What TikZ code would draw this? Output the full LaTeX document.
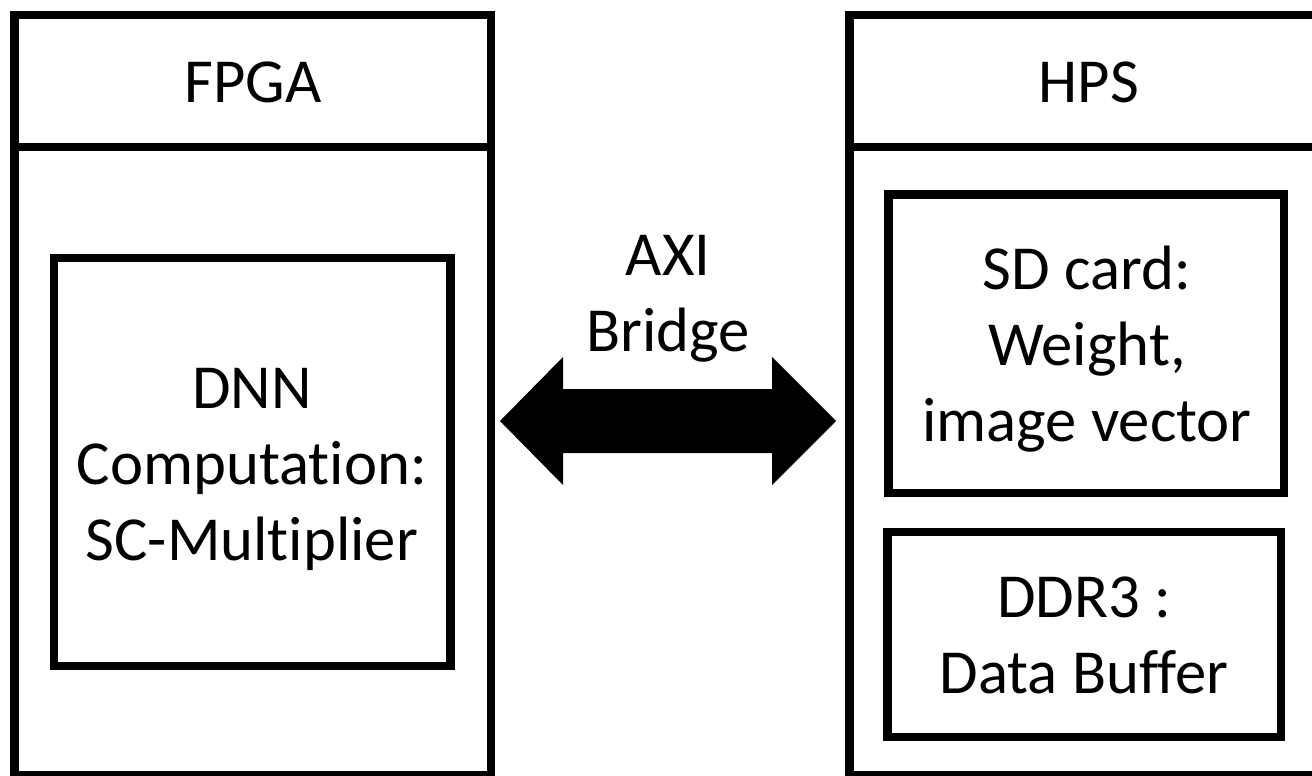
\documentclass[tikz,border=0pt]{standalone}
\usepackage{fontspec}
\setmainfont[Ligatures=NoCommon]{Carlito}
\usetikzlibrary{calc}
\begin{document}
\begin{tikzpicture}[
  x=0.75pt, y=-0.75pt,
  frame/.style={draw=black, line width=6.4pt, rectangle, inner sep=0pt, outer sep=0pt},
  txt/.style={inner sep=0pt, align=center, font=\fontsize{47}{57}\selectfont}
]
\useasboundingbox (0,0) rectangle (1312,775);

% FPGA side: header and body
\node[frame, minimum width=357.4pt, minimum height=99pt]  (fpgahead) at (252.75,81) {};
\node[frame, minimum width=357.4pt, minimum height=471pt] (fpga)     at (252.75,461) {};
\node[txt] (fpgalabel) at (253,82) {FPGA};

\node[frame, minimum width=297.4pt, minimum height=306pt] (dnn) at (252.25,462) {};
\node[txt] (dnnlabel) at (252,469.5) {DNN\\Computation:\\SC-Multiplier};

% HPS side: header and body
\node[frame, minimum width=357.4pt, minimum height=99pt]  (hpshead) at (1087.75,81) {};
\node[frame, minimum width=357.4pt, minimum height=471pt] (hps)     at (1087.75,461) {};
\node[txt] (hpslabel) at (1089,82) {HPS};

\node[frame, minimum width=296.6pt, minimum height=223.9pt] (sd) at (1086.25,343.75) {};
\node[txt] (sdlabel) at (1087,349) {SD card:\\Weight,\\image vector};

\node[frame, minimum width=295.1pt, minimum height=153.75pt] (ddr) at (1084.25,634.5) {};
\node[txt] (ddrlabel) at (1084,635) {DDR3 :\\Data Buffer};

% AXI bridge: block double arrow between the two sides
\coordinate (bl) at (500,421);
\coordinate (br) at (836,421);
\fill[black] (bl) -- ($(bl)+(63,-64)$) -- ($(bl)+(63,-32)$) -- ($(br)+(-64,-32)$)
  -- ($(br)+(-64,-64)$) -- (br) -- ($(br)+(-64,64)$) -- ($(br)+(-64,32)$)
  -- ($(bl)+(63,32)$) -- ($(bl)+(63,64)$) -- cycle;
\node[txt] (axilabel) at (668,299) {AXI\\Bridge};
\end{tikzpicture}
\end{document}
